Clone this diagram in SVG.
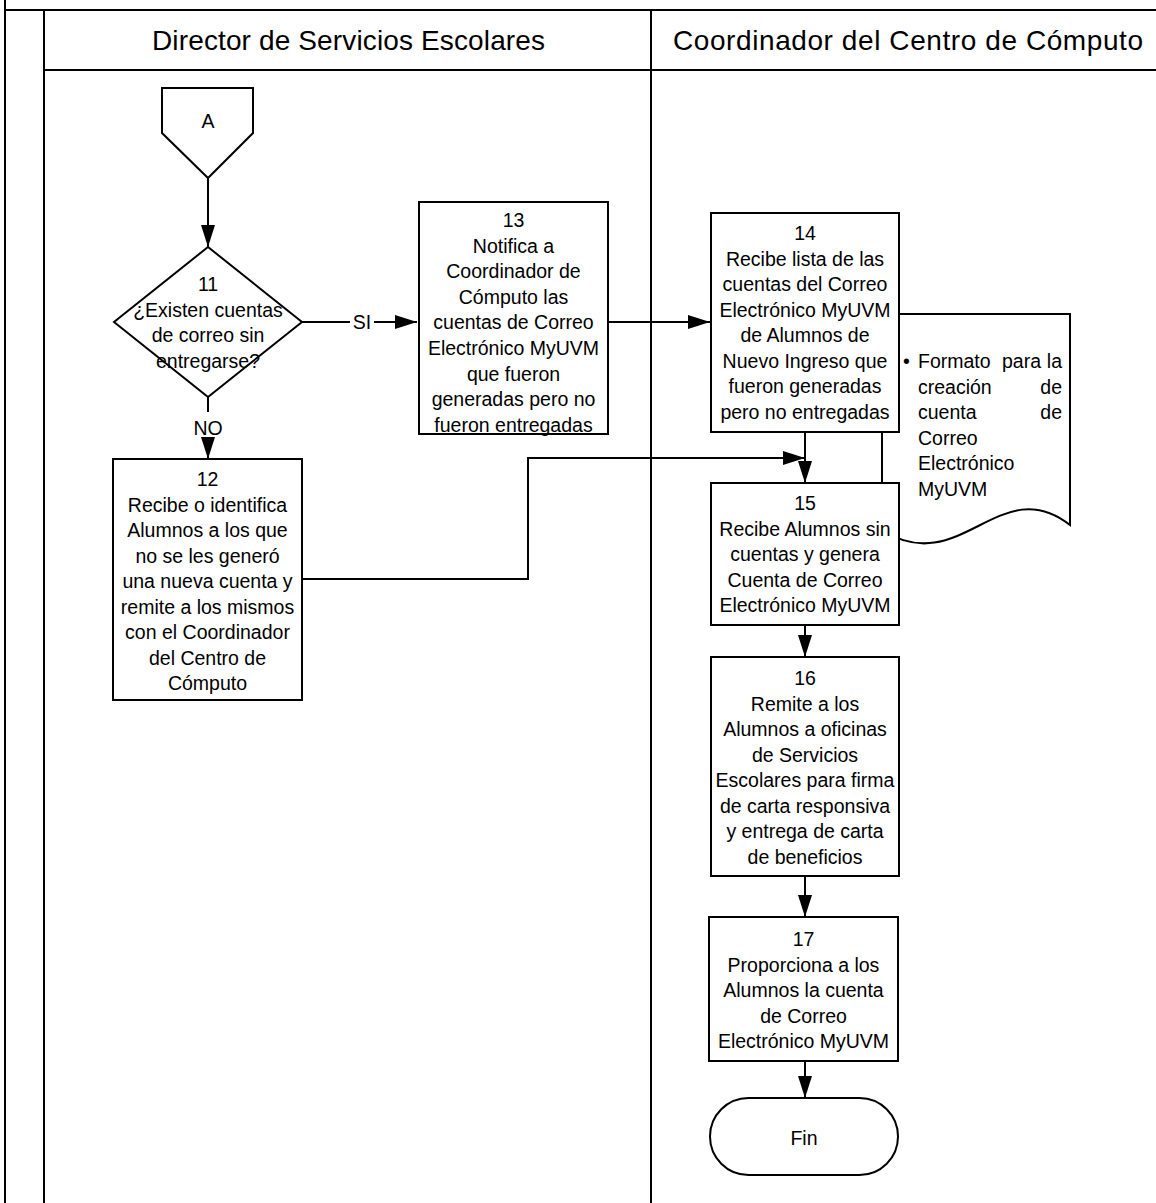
<svg xmlns="http://www.w3.org/2000/svg" width="1156" height="1203" viewBox="0 0 1156 1203">
<style>
.ln{fill:none;stroke:#000;stroke-width:2}
.box{fill:#fff;stroke:#000;stroke-width:2}
.t{font-family:"Liberation Sans",Arial,sans-serif;font-size:19.5px;fill:#000;text-anchor:middle}
.tl{font-family:"Liberation Sans",Arial,sans-serif;font-size:19.5px;fill:#000}
.h{font-family:"Liberation Sans",Arial,sans-serif;font-size:28px;fill:#000}
</style>
<defs>
<marker id="ar" markerUnits="userSpaceOnUse" markerWidth="22" markerHeight="14" refX="22" refY="7" orient="auto">
<path d="M0,0 L22,7 L0,14 z" fill="#000"/>
</marker>
</defs>
<rect width="1156" height="1203" fill="#fff"/>
<g id="frame">
<path class="ln" d="M5,0 V1203 M5,10 H1156 M44,10 V1203 M44,70 H1156 M651,10 V1203"/>
<text class="h" x="152" y="49.5" textLength="393" lengthAdjust="spacing">Director de Servicios Escolares</text>
<text class="h" x="673" y="49.5" textLength="470" lengthAdjust="spacing">Coordinador del Centro de Cómputo</text>
</g>
<g id="doc">
<path class="box" d="M882,314 H1070 V525 C1000,470 960,580 882,530 Z"/>
<text class="tl" x="903" y="368">•</text>
<text class="tl" x="918" y="368">Formato</text>
<text class="tl" x="1002" y="368">para</text>
<text class="tl" x="1062" y="368" text-anchor="end">la</text>
<text class="tl" x="918" y="393.5">creación</text>
<text class="tl" x="1062" y="393.5" text-anchor="end">de</text>
<text class="tl" x="918" y="419">cuenta</text>
<text class="tl" x="1062" y="419" text-anchor="end">de</text>
<text class="tl" x="918" y="444.5">Correo</text>
<text class="tl" x="918" y="470">Electrónico</text>
<text class="tl" x="918" y="495.5">MyUVM</text>
</g>
<g id="connectors">
<path class="ln" d="M208,178 V247" marker-end="url(#ar)"/>
<path class="ln" d="M302,322 H350 M374,322 H417" marker-end="url(#ar)"/>
<path class="ln" d="M208,397 V412"/>
<path class="ln" d="M208,441 V459" marker-end="url(#ar)"/>
<path class="ln" d="M608,322 H710" marker-end="url(#ar)"/>
<path class="ln" d="M302,579 H528 V458 H805" marker-end="url(#ar)"/>
<path class="ln" d="M805,432 V483" marker-end="url(#ar)"/>
<path class="ln" d="M805,625 V657" marker-end="url(#ar)"/>
<path class="ln" d="M805,876 V917" marker-end="url(#ar)"/>
<path class="ln" d="M805,1061 V1098" marker-end="url(#ar)"/>
<text class="t" x="362" y="329">SI</text>
<text class="t" x="208" y="435">NO</text>
</g>
<g id="nodeA">
<path class="box" d="M162,88 H253 V133 L208,178 L162,133 Z"/>
<text class="t" x="208" y="128">A</text>
</g>
<g id="node11">
<path class="box" d="M208,247 L302,322 L208,397 L114,322 Z"/>
<text class="t" x="208" y="291">11</text>
<text class="t" x="208" y="316.5">¿Existen cuentas</text>
<text class="t" x="208" y="342">de correo sin</text>
<text class="t" x="208" y="367.5">entregarse?</text>
</g>
<g id="node12">
<rect class="box" x="113" y="459" width="189" height="241"/>
<text class="t" x="207.5" y="486">12</text>
<text class="t" x="207.5" y="511.5">Recibe o identifica</text>
<text class="t" x="207.5" y="537">Alumnos a los que</text>
<text class="t" x="207.5" y="562.5">no se les generó</text>
<text class="t" x="207.5" y="588">una nueva cuenta y</text>
<text class="t" x="207.5" y="613.5">remite a los mismos</text>
<text class="t" x="207.5" y="639">con el Coordinador</text>
<text class="t" x="207.5" y="664.5">del Centro de</text>
<text class="t" x="207.5" y="690">Cómputo</text>
</g>
<g id="node13">
<rect class="box" x="419" y="202" width="189" height="232"/>
<text class="t" x="513.5" y="227">13</text>
<text class="t" x="513.5" y="252.6">Notifica a</text>
<text class="t" x="513.5" y="278.2">Coordinador de</text>
<text class="t" x="513.5" y="303.8">Cómputo las</text>
<text class="t" x="513.5" y="329.4">cuentas de Correo</text>
<text class="t" x="513.5" y="355">Electrónico MyUVM</text>
<text class="t" x="513.5" y="380.6">que fueron</text>
<text class="t" x="513.5" y="406.2">generadas pero no</text>
<text class="t" x="513.5" y="431.8">fueron entregadas</text>
</g>
<g id="node14">
<rect class="box" x="711" y="213" width="188" height="219"/>
<text class="t" x="805" y="240">14</text>
<text class="t" x="805" y="265.5">Recibe lista de las</text>
<text class="t" x="805" y="291">cuentas del  Correo</text>
<text class="t" x="805" y="316.5">Electrónico MyUVM</text>
<text class="t" x="805" y="342">de Alumnos de</text>
<text class="t" x="805" y="367.5">Nuevo Ingreso que</text>
<text class="t" x="805" y="393">fueron generadas</text>
<text class="t" x="805" y="418.5">pero no entregadas</text>
</g>
<g id="node15">
<rect class="box" x="711" y="483" width="188" height="142"/>
<text class="t" x="805" y="510">15</text>
<text class="t" x="805" y="535.5">Recibe Alumnos sin</text>
<text class="t" x="805" y="561">cuentas y genera</text>
<text class="t" x="805" y="586.5">Cuenta de Correo</text>
<text class="t" x="805" y="612">Electrónico MyUVM</text>
</g>
<g id="node16">
<rect class="box" x="711" y="657" width="188" height="219"/>
<text class="t" x="805" y="685">16</text>
<text class="t" x="805" y="710.5">Remite a los</text>
<text class="t" x="805" y="736">Alumnos a oficinas</text>
<text class="t" x="805" y="761.5">de Servicios</text>
<text class="t" x="805" y="787">Escolares para firma</text>
<text class="t" x="805" y="812.5">de carta responsiva</text>
<text class="t" x="805" y="838">y entrega de carta</text>
<text class="t" x="805" y="863.5">de beneficios</text>
</g>
<g id="node17">
<rect class="box" x="709" y="917" width="189" height="144"/>
<text class="t" x="803.5" y="946">17</text>
<text class="t" x="803.5" y="971.5">Proporciona a los</text>
<text class="t" x="803.5" y="997">Alumnos la cuenta</text>
<text class="t" x="803.5" y="1022.5">de Correo</text>
<text class="t" x="803.5" y="1048">Electrónico MyUVM</text>
</g>
<g id="fin">
<rect class="box" x="710" y="1098" width="188" height="77" rx="38.5" ry="38.5"/>
<text class="t" x="804" y="1145">Fin</text>
</g>
</svg>
